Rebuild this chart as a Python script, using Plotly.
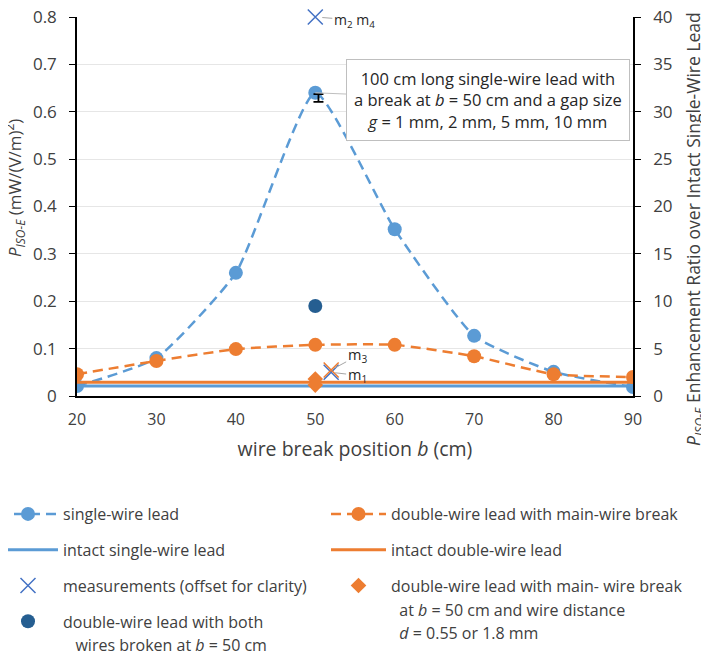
import plotly.graph_objects as go

# ---- data ----
b_positions = [20, 30, 40, 50, 60, 70, 80, 90]
single_wire = [0.021, 0.080, 0.260, 0.640, 0.352, 0.127, 0.051, 0.019]
double_wire_main = [0.046, 0.074, 0.099, 0.108, 0.108, 0.084, 0.046, 0.040]
intact_x = [20, 90]
intact_single = [0.021, 0.021]
intact_double = [0.029, 0.029]
both_broken_x = [50]
both_broken_y = [0.190]
diamond_x = [50, 50]
diamond_y = [0.036, 0.023]
meas_blue_x = [52, 50]
meas_blue_y = [0.050, 0.800]
meas_orange_x = [52]
meas_orange_y = [0.055]
gap_x = [50.4]
gap_mid = [0.629]
gap_err = [0.008]
xticks = [20, 30, 40, 50, 60, 70, 80, 90]
ratio_range = [0, 40]

LB = "#5B9BD5"
OR = "#ED7D31"
DB = "#255E91"
MB = "#4472C4"
FONT = "Open Sans"
CLEAR = "rgba(0,0,0,0)"

# page offset of the plot div (browser body margin) and plot-area geometry
OFF = 8
W, H = 709, 656
PL, PR, PT, PB = 77 - OFF, 633 - OFF, 17 - OFF, 396 - OFF

def scr_to_paper(xs, ys):
    xp, yp = xs - OFF, ys - OFF
    return (xp - PL) / (PR - PL), (PB - yp) / (PB - PT)

fig = go.Figure()

# left legend column
fig.add_trace(go.Scatter(x=b_positions, y=single_wire, mode="lines+markers",
    name="single-wire lead", legend="legend", legendgroup="a",
    line=dict(color=LB, width=2.5, dash="10px,6px", shape="spline", smoothing=0.5),
    marker=dict(color=LB, size=14)))
fig.add_trace(go.Scatter(x=intact_x, y=intact_single, mode="lines",
    name="intact single-wire lead", legend="legend", legendgroup="b",
    line=dict(color=LB, width=3)))
fig.add_trace(go.Scatter(x=meas_blue_x, y=meas_blue_y, mode="markers",
    name="measurements (offset for clarity)", legend="legend", legendgroup="c",
    cliponaxis=False,
    marker=dict(symbol="x-thin", size=15, line=dict(color=MB, width=1.5), color=MB)))
fig.add_trace(go.Scatter(x=both_broken_x, y=both_broken_y, mode="markers",
    name="double-wire lead with both", legend="legend", legendgroup="d",
    marker=dict(color=DB, size=14)))
fig.add_trace(go.Scatter(x=both_broken_x, y=both_broken_y, mode="markers",
    name="\u00a0\u00a0\u00a0wires broken at <i>b</i> = 50 cm", legend="legend", legendgroup="d",
    marker=dict(color=CLEAR, size=1), hoverinfo="skip"))

# right legend column
fig.add_trace(go.Scatter(x=b_positions, y=double_wire_main, mode="lines+markers",
    name="double-wire lead with main-wire break", legend="legend2", legendgroup="e",
    line=dict(color=OR, width=2.5, dash="10px,6px", shape="spline", smoothing=0.5),
    marker=dict(color=OR, size=14)))
fig.add_trace(go.Scatter(x=intact_x, y=intact_double, mode="lines",
    name="intact double-wire lead", legend="legend2", legendgroup="f",
    line=dict(color=OR, width=3)))
fig.add_trace(go.Scatter(x=diamond_x, y=diamond_y, mode="markers",
    name="double-wire lead with main- wire break", legend="legend2", legendgroup="g",
    marker=dict(color=OR, size=12, symbol="diamond")))
fig.add_trace(go.Scatter(x=diamond_x, y=diamond_y, mode="markers",
    name="\u00a0\u00a0at <i>b</i> = 50 cm and wire distance", legend="legend2", legendgroup="g",
    marker=dict(color=CLEAR, size=1), hoverinfo="skip"))
fig.add_trace(go.Scatter(x=diamond_x, y=diamond_y, mode="markers",
    name="\u00a0\u00a0<i>d</i> = 0.55 or 1.8 mm", legend="legend2", legendgroup="g",
    marker=dict(color=CLEAR, size=1), hoverinfo="skip"))

# non-legend marks
fig.add_trace(go.Scatter(x=meas_orange_x, y=meas_orange_y, mode="markers",
    showlegend=False,
    marker=dict(symbol="x-thin", size=15, line=dict(color=OR, width=1.5), color=OR)))
fig.add_trace(go.Scatter(x=gap_x, y=gap_mid, mode="markers", showlegend=False,
    marker=dict(color=CLEAR, size=1),
    error_y=dict(type="data", array=gap_err, color="black", thickness=1.8, width=5)))
# invisible trace that activates the right-hand ratio axis
fig.add_trace(go.Scatter(x=intact_x, y=ratio_range, yaxis="y2", mode="markers",
    showlegend=False, marker=dict(color=CLEAR, size=1), hoverinfo="skip"))

anns = []
anns.append(dict(x=50, y=0.640, xref="x", yref="y",
    text="100 cm long single-wire lead with<br>a break at <i>b</i> = 50 cm and a gap size<br><i>g</i> = 1 mm, 2 mm, 5 mm, 10 mm",
    showarrow=True, arrowhead=0, arrowwidth=1, arrowcolor="#BFBFBF",
    ax=173, ay=7, bgcolor="white", bordercolor="#BFBFBF", borderwidth=1, borderpad=7,
    font=dict(family=FONT, size=16.5, color="#262626")))
anns.append(dict(x=50, y=0.800, xref="x", yref="y", text="m<sub>2</sub> m<sub>4</sub>",
    showarrow=True, arrowhead=0, arrowwidth=1, arrowcolor="#A6A6A6", standoff=7,
    ax=39, ay=3, font=dict(family=FONT, size=14, color="#262626")))
anns.append(dict(x=52, y=0.055, xref="x", yref="y", text="m<sub>3</sub>",
    showarrow=True, arrowhead=0, arrowwidth=1, arrowcolor="#A6A6A6", standoff=4,
    ax=26, ay=-14, font=dict(family=FONT, size=14.5, color="#262626")))
anns.append(dict(x=52, y=0.050, xref="x", yref="y", text="m<sub>1</sub>",
    showarrow=True, arrowhead=0, arrowwidth=1, arrowcolor="#A6A6A6", standoff=4,
    ax=26, ay=3, font=dict(family=FONT, size=14.5, color="#262626")))
# axis titles
tx, ty = scr_to_paper(14, 188)
anns.append(dict(x=tx, y=ty, xref="paper", yref="paper",
    text="<i>P<sub>ISO-E</sub></i> (mW/(V/m)<sup>2</sup>)",
    textangle=-90, showarrow=False, xanchor="center", yanchor="middle",
    font=dict(family=FONT, size=17, color="#404040")))
rx, ry = scr_to_paper(694, 229)
anns.append(dict(x=rx, y=ry, xref="paper", yref="paper",
    text="<i>P<sub>ISO-E</sub></i> Enhancement Ratio over Intact Single-Wire Lead",
    textangle=-90, showarrow=False, xanchor="center", yanchor="middle",
    font=dict(family=FONT, size=17.5, color="#404040")))

lx1, ly = scr_to_paper(-7, 497)
lx2, _ = scr_to_paper(326, 497)

fig.update_layout(
    width=W, height=H, autosize=False,
    margin=dict(l=PL, r=W - PR, t=PT, b=H - PB, autoexpand=False),
    paper_bgcolor="white", plot_bgcolor="white",
    font=dict(family=FONT, size=16, color="#404040"),
    annotations=anns,
    xaxis=dict(range=[20, 90], tickvals=xticks, showline=True, linecolor="black",
        linewidth=1.5, ticks="", showgrid=False, zeroline=False, ticklabelstandoff=8,
        tickfont=dict(size=16, color="#404040"),
        title=dict(text="wire break position <i>b</i> (cm)", font=dict(size=19.5), standoff=13)),
    yaxis=dict(range=[0, 0.8], dtick=0.1, showline=True, linecolor="black", linewidth=1.5,
        ticks="outside", ticklen=6, tickcolor="black", showgrid=True, gridcolor="#E6E6E6",
        zeroline=False, ticklabelstandoff=9, ticklabeloverflow="allow",
        tickfont=dict(size=17, color="#404040")),
    yaxis2=dict(range=ratio_range, dtick=5, overlaying="y", side="right", showline=True,
        linecolor="black", linewidth=1.5, ticks="outside", ticklen=6, tickcolor="black",
        showgrid=False, zeroline=False, ticklabelstandoff=9, ticklabeloverflow="allow",
        tickfont=dict(size=17, color="#404040")),
    legend=dict(x=lx1, y=ly, xanchor="left", yanchor="top", tracegroupgap=12, itemwidth=60,
        font=dict(size=16, color="#404040"), bgcolor=CLEAR),
    legend2=dict(x=lx2, y=ly, xanchor="left", yanchor="top", tracegroupgap=12, itemwidth=55,
        font=dict(size=16, color="#404040"), bgcolor=CLEAR),
)

fig.write_html("out.html")
